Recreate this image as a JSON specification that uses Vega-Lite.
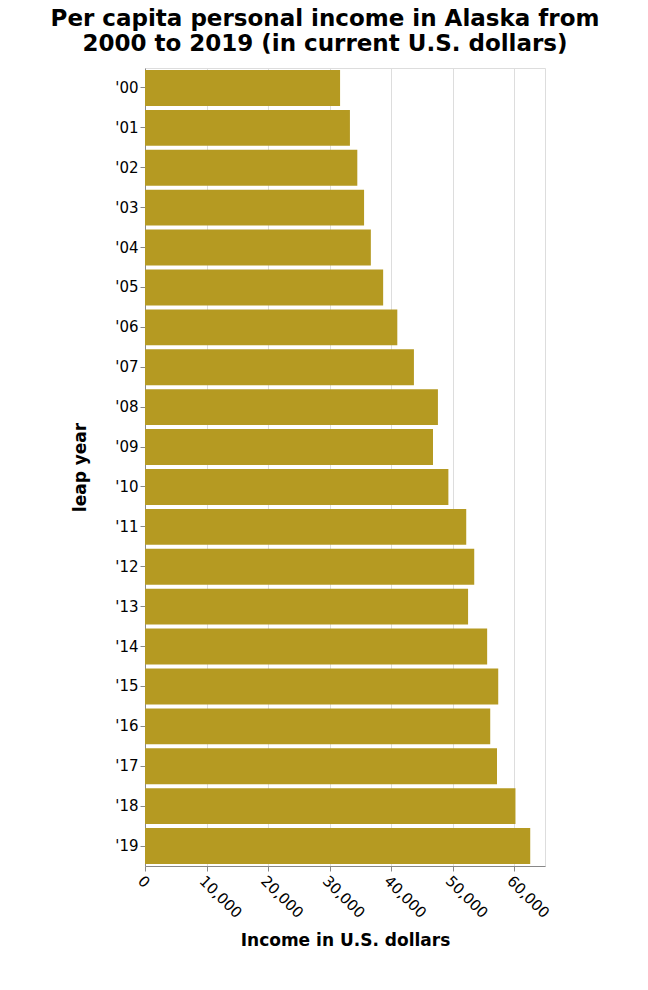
{
  "$schema": "https://vega.github.io/schema/vega-lite/v6.json",
  "width": 400,
  "height": 798,
  "padding": {"left": 50, "top": 8, "right": 5, "bottom": 5},
  "title": {
    "text": ["Per capita personal income in Alaska from", "2000 to 2019 (in current U.S. dollars)"],
    "fontSize": 23,
    "font": "DejaVu Sans",
    "fontWeight": "bold",
    "color": "black",
    "anchor": "middle",
    "dx": -20,
    "offset": 12
  },
  "data": {
    "values": [
      {"year": "'00", "income": 31700},
      {"year": "'01", "income": 33300},
      {"year": "'02", "income": 34500},
      {"year": "'03", "income": 35600},
      {"year": "'04", "income": 36700},
      {"year": "'05", "income": 38700},
      {"year": "'06", "income": 41000},
      {"year": "'07", "income": 43700},
      {"year": "'08", "income": 47600},
      {"year": "'09", "income": 46800},
      {"year": "'10", "income": 49300},
      {"year": "'11", "income": 52200},
      {"year": "'12", "income": 53500},
      {"year": "'13", "income": 52500},
      {"year": "'14", "income": 55600},
      {"year": "'15", "income": 57400},
      {"year": "'16", "income": 56100},
      {"year": "'17", "income": 57200},
      {"year": "'18", "income": 60200},
      {"year": "'19", "income": 62600}
    ]
  },
  "mark": {"type": "bar", "color": "#b59a22"},
  "encoding": {
    "y": {"field": "year", "type": "ordinal", "title": "leap year", "scale": {"paddingInner": 0.1, "paddingOuter": 0.05}, "axis": {"titlePadding": 25}},
    "x": {
      "field": "income",
      "type": "quantitative",
      "title": "Income in U.S. dollars",
      "scale": {"domain": [0, 65000]},
      "axis": {"values": [0, 10000, 20000, 30000, 40000, 50000, 60000], "labelAngle": 45, "labelExpr": "format(datum.value, ',')", "titlePadding": 12}
    }
  },
  "config": {
    "font": "DejaVu Sans",
    "axis": {"labelFontSize": 15, "titleFontSize": 17, "labelColor": "black", "titleColor": "black", "titleFontWeight": "bold", "domainColor": "#888", "tickColor": "#888"},
    "axisX": {"labelAlign": "left", "labelBaseline": "top"},
    "view": {"stroke": "#ddd"}
  }
}
